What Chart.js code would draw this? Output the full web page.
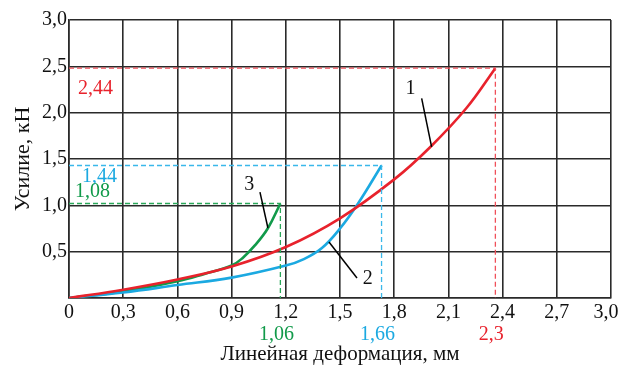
<!DOCTYPE html>
<html>
<head>
<meta charset="utf-8">
<script src="https://cdn.jsdelivr.net/npm/chart.js@4.4.1/dist/chart.umd.min.js"></script>
<style>
  html, body { margin: 0; padding: 0; background: #fff; }
  #wrap { width: 619px; height: 367px; }
</style>
</head>
<body>
<div id="wrap"><canvas id="chart" width="619" height="367"></canvas></div>
<script>
// Кривые "усилие – деформация" (мм, кН)
const curve1X = [0, 0.3, 0.6, 0.9, 1.2, 1.5, 1.8, 2.0, 2.2, 2.36];
const curve1Y = [0, 0.09, 0.2, 0.34, 0.55, 0.86, 1.28, 1.63, 2.05, 2.48];

const curve2X = [0, 0.3, 0.6, 0.9, 1.2, 1.3, 1.4, 1.5, 1.6, 1.73];
const curve2Y = [0, 0.06, 0.14, 0.22, 0.35, 0.42, 0.54, 0.75, 1.02, 1.43];

const curve3X = [0, 0.3, 0.6, 0.75, 0.9, 0.96, 1.03, 1.1, 1.17];
const curve3Y = [0, 0.07, 0.18, 0.26, 0.35, 0.43, 0.57, 0.75, 1.02];

// подписи значений у пунктирных линий
const valueLabelsY = ['2,44', '1,44', '1,08'];
const valueLabelsX = ['2,3', '1,66', '1,06'];
const curveNames = ['1', '2', '3'];

const xTicks = [0, 0.3, 0.6, 0.9, 1.2, 1.5, 1.8, 2.1, 2.4, 2.7, 3.0];

const colors = ['#e8222c', '#1ba9e1', '#119a4a'];
const dashColors = ['#f0505a', '#3ab8ea', '#2aa85a'];

function toPoints(xs, ys) {
    return xs.map((x, i) => ({ x: x, y: ys[i] }));
}

function guideLine(xs, ys) {
    const n = xs.length - 1;
    return [{ x: 0, y: ys[n] }, { x: xs[n], y: ys[n] }, { x: xs[n], y: 0 }];
}

const curves = [[curve1X, curve1Y], [curve2X, curve2Y], [curve3X, curve3Y]];

const datasets = [];
curves.forEach((c, i) => {
    datasets.push({
        data: guideLine(c[0], c[1]),
        borderColor: dashColors[i],
        borderWidth: 1.3,
        borderDash: [5, 3],
        pointRadius: 0,
        tension: 0
    });
});
curves.forEach((c, i) => {
    datasets.push({
        data: toPoints(c[0], c[1]),
        borderColor: colors[i],
        borderWidth: 2.6,
        pointRadius: 0,
        tension: 0.4
    });
});

const fmt = v => (Math.abs(v) < 1e-9 ? '0' : v.toFixed(1).replace('.', ','));

// выноски с номерами кривых (в единицах осей)
const leaders = [
    { text: curveNames[0], from: [1.952, 2.154], to: [2.007, 1.63], at: [1.89, 2.26] },
    { text: curveNames[1], from: [1.439, 0.604], to: [1.594, 0.216], at: [1.653, 0.205] },
    { text: curveNames[2], from: [1.057, 1.143], to: [1.101, 0.755], at: [0.998, 1.219] }
];

const labelsPlugin = {
    id: 'labels',
    afterDraw(chart) {
        const ctx = chart.ctx;
        const xs = chart.scales.x, ys = chart.scales.y;
        ctx.save();
        ctx.font = '20px "Liberation Serif"';
        ctx.textBaseline = 'middle';

        // подписи у оси Y
        const yOff = [21, 11, -12];
        const xOff = [9, 13, 6];
        curves.forEach((c, i) => {
            const n = c[1].length - 1;
            ctx.fillStyle = colors[i];
            ctx.textAlign = 'left';
            ctx.fillText(valueLabelsY[i], xs.left + xOff[i], ys.getPixelForValue(c[1][n]) + yOff[i]);
        });
        // подписи под осью X
        curves.forEach((c, i) => {
            const n = c[0].length - 1;
            ctx.fillStyle = colors[i];
            ctx.textAlign = 'center';
            ctx.fillText(valueLabelsX[i], xs.getPixelForValue(c[0][n]) - 4, ys.bottom + 37);
        });

        // выноски
        ctx.strokeStyle = '#000';
        ctx.lineWidth = 1.5;
        ctx.fillStyle = '#111';
        leaders.forEach(l => {
            ctx.beginPath();
            ctx.moveTo(xs.getPixelForValue(l.from[0]), ys.getPixelForValue(l.from[1]));
            ctx.lineTo(xs.getPixelForValue(l.to[0]), ys.getPixelForValue(l.to[1]));
            ctx.stroke();
            ctx.textAlign = 'center';
            ctx.fillText(l.text, xs.getPixelForValue(l.at[0]), ys.getPixelForValue(l.at[1]));
        });
        ctx.restore();
    }
};

new Chart(document.getElementById('chart'), {
    type: 'line',
    data: { datasets },
    options: {
        responsive: false,
        animation: false,
        layout: { padding: { top: 20, right: 8, left: 0, bottom: 0 } },
        plugins: {
            legend: { display: false },
            tooltip: { enabled: false }
        },
        scales: {
            x: {
                type: 'linear',
                min: 0,
                max: 3,
                afterBuildTicks: s => { s.ticks = xTicks.map(v => ({ value: v })); },
                ticks: {
                    // последняя подпись чуть сдвинута влево, как в оригинале
                    callback: v => (v >= 3 ? fmt(v) + '\u00a0\u00a0' : fmt(v)),
                    color: '#111',
                    font: { family: 'Liberation Serif', size: 20 },
                    padding: 3,
                    maxRotation: 0,
                    autoSkip: false
                },
                grid: { color: '#2a2a2a', lineWidth: 1.6, drawTicks: false },
                border: { color: '#2a2a2a', width: 1.6 },
                title: {
                    display: true,
                    text: 'Линейная деформация, мм',
                    color: '#111',
                    font: { family: 'Liberation Serif', size: 21 },
                    padding: { top: 0, bottom: 0 }
                },
                afterFit: s => { s.height = 69; s.paddingLeft = 0; s.paddingRight = 0; }
            },
            y: {
                min: 0,
                max: 3,
                ticks: {
                    stepSize: 0.5,
                    callback: v => (v === 0 ? '' : fmt(v)),
                    color: '#111',
                    font: { family: 'Liberation Serif', size: 20 },
                    padding: 2
                },
                grid: { color: '#2a2a2a', lineWidth: 1.6, drawTicks: false },
                border: { color: '#2a2a2a', width: 1.6 },
                title: {
                    display: true,
                    text: 'Усилие, кН',
                    color: '#111',
                    font: { family: 'Liberation Serif', size: 22 },
                    padding: { top: 10, bottom: 0 }
                },
                afterFit: s => { s.width = 69; s.paddingTop = 0; s.paddingBottom = 0; }
            }
        }
    },
    plugins: [labelsPlugin]
});
</script>
</body>
</html>
